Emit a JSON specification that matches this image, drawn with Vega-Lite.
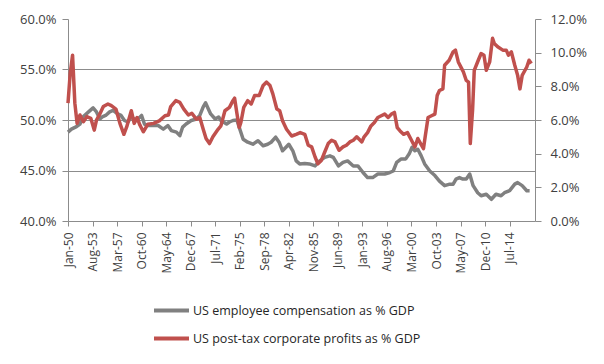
{
  "$schema": "https://vega.github.io/schema/vega-lite/v6.json",
  "width": 467,
  "height": 202,
  "autosize": {"type": "none"},
  "padding": {"left": 68, "top": 19, "right": 69, "bottom": 143},
  "background": "white",
  "config": {
    "font": "Open Sans",
    "view": {"stroke": null},
    "axis": {
      "labelFont": "Open Sans",
      "labelColor": "#404040",
      "domainColor": "#8c8c8c",
      "tickColor": "#8c8c8c",
      "gridColor": "#8c8c8c",
      "domainWidth": 1,
      "tickWidth": 1,
      "gridWidth": 1,
      "title": null
    }
  },
  "data": {
    "values": [
      {"date": "1950-01-01", "series": "US employee compensation as % GDP", "value": 0.488},
      {"date": "1950-07-01", "series": "US employee compensation as % GDP", "value": 0.491},
      {"date": "1951-04-01", "series": "US employee compensation as % GDP", "value": 0.4935},
      {"date": "1951-10-01", "series": "US employee compensation as % GDP", "value": 0.496},
      {"date": "1952-03-01", "series": "US employee compensation as % GDP", "value": 0.503},
      {"date": "1953-01-01", "series": "US employee compensation as % GDP", "value": 0.508},
      {"date": "1953-09-01", "series": "US employee compensation as % GDP", "value": 0.512},
      {"date": "1954-03-01", "series": "US employee compensation as % GDP", "value": 0.508},
      {"date": "1954-09-01", "series": "US employee compensation as % GDP", "value": 0.501},
      {"date": "1955-01-01", "series": "US employee compensation as % GDP", "value": 0.503},
      {"date": "1955-07-01", "series": "US employee compensation as % GDP", "value": 0.5045},
      {"date": "1956-02-01", "series": "US employee compensation as % GDP", "value": 0.508},
      {"date": "1956-08-01", "series": "US employee compensation as % GDP", "value": 0.5095},
      {"date": "1957-04-01", "series": "US employee compensation as % GDP", "value": 0.506},
      {"date": "1957-10-01", "series": "US employee compensation as % GDP", "value": 0.5045},
      {"date": "1958-04-01", "series": "US employee compensation as % GDP", "value": 0.4995},
      {"date": "1958-10-01", "series": "US employee compensation as % GDP", "value": 0.498},
      {"date": "1959-04-01", "series": "US employee compensation as % GDP", "value": 0.503},
      {"date": "1960-01-01", "series": "US employee compensation as % GDP", "value": 0.4995},
      {"date": "1960-10-01", "series": "US employee compensation as % GDP", "value": 0.5045},
      {"date": "1961-03-01", "series": "US employee compensation as % GDP", "value": 0.496},
      {"date": "1961-09-01", "series": "US employee compensation as % GDP", "value": 0.4945},
      {"date": "1962-07-01", "series": "US employee compensation as % GDP", "value": 0.4945},
      {"date": "1963-03-01", "series": "US employee compensation as % GDP", "value": 0.4945},
      {"date": "1963-12-01", "series": "US employee compensation as % GDP", "value": 0.491},
      {"date": "1964-08-01", "series": "US employee compensation as % GDP", "value": 0.4945},
      {"date": "1965-02-01", "series": "US employee compensation as % GDP", "value": 0.4895},
      {"date": "1965-11-01", "series": "US employee compensation as % GDP", "value": 0.488},
      {"date": "1966-05-01", "series": "US employee compensation as % GDP", "value": 0.4845},
      {"date": "1966-10-01", "series": "US employee compensation as % GDP", "value": 0.493},
      {"date": "1967-04-01", "series": "US employee compensation as % GDP", "value": 0.496},
      {"date": "1968-01-01", "series": "US employee compensation as % GDP", "value": 0.4995},
      {"date": "1968-10-01", "series": "US employee compensation as % GDP", "value": 0.501},
      {"date": "1969-04-01", "series": "US employee compensation as % GDP", "value": 0.5045},
      {"date": "1969-10-01", "series": "US employee compensation as % GDP", "value": 0.513},
      {"date": "1970-02-01", "series": "US employee compensation as % GDP", "value": 0.517},
      {"date": "1970-07-01", "series": "US employee compensation as % GDP", "value": 0.511},
      {"date": "1970-11-01", "series": "US employee compensation as % GDP", "value": 0.506},
      {"date": "1971-07-01", "series": "US employee compensation as % GDP", "value": 0.501},
      {"date": "1972-01-01", "series": "US employee compensation as % GDP", "value": 0.503},
      {"date": "1972-05-01", "series": "US employee compensation as % GDP", "value": 0.4995},
      {"date": "1973-03-01", "series": "US employee compensation as % GDP", "value": 0.496},
      {"date": "1973-08-01", "series": "US employee compensation as % GDP", "value": 0.498},
      {"date": "1974-02-01", "series": "US employee compensation as % GDP", "value": 0.4995},
      {"date": "1974-09-01", "series": "US employee compensation as % GDP", "value": 0.500},
      {"date": "1975-02-01", "series": "US employee compensation as % GDP", "value": 0.491},
      {"date": "1975-08-01", "series": "US employee compensation as % GDP", "value": 0.481},
      {"date": "1976-04-01", "series": "US employee compensation as % GDP", "value": 0.478},
      {"date": "1977-01-01", "series": "US employee compensation as % GDP", "value": 0.476},
      {"date": "1977-10-01", "series": "US employee compensation as % GDP", "value": 0.4795},
      {"date": "1978-07-01", "series": "US employee compensation as % GDP", "value": 0.4745},
      {"date": "1979-03-01", "series": "US employee compensation as % GDP", "value": 0.476},
      {"date": "1979-09-01", "series": "US employee compensation as % GDP", "value": 0.478},
      {"date": "1980-05-01", "series": "US employee compensation as % GDP", "value": 0.483},
      {"date": "1980-11-01", "series": "US employee compensation as % GDP", "value": 0.478},
      {"date": "1981-05-01", "series": "US employee compensation as % GDP", "value": 0.4695},
      {"date": "1981-11-01", "series": "US employee compensation as % GDP", "value": 0.473},
      {"date": "1982-04-01", "series": "US employee compensation as % GDP", "value": 0.476},
      {"date": "1982-11-01", "series": "US employee compensation as % GDP", "value": 0.4695},
      {"date": "1983-05-01", "series": "US employee compensation as % GDP", "value": 0.4595},
      {"date": "1983-11-01", "series": "US employee compensation as % GDP", "value": 0.4565},
      {"date": "1984-08-01", "series": "US employee compensation as % GDP", "value": 0.457},
      {"date": "1985-04-01", "series": "US employee compensation as % GDP", "value": 0.4565},
      {"date": "1986-02-01", "series": "US employee compensation as % GDP", "value": 0.4545},
      {"date": "1986-10-01", "series": "US employee compensation as % GDP", "value": 0.4595},
      {"date": "1987-07-01", "series": "US employee compensation as % GDP", "value": 0.463},
      {"date": "1988-04-01", "series": "US employee compensation as % GDP", "value": 0.4645},
      {"date": "1988-10-01", "series": "US employee compensation as % GDP", "value": 0.463},
      {"date": "1989-07-01", "series": "US employee compensation as % GDP", "value": 0.4545},
      {"date": "1990-03-01", "series": "US employee compensation as % GDP", "value": 0.458},
      {"date": "1990-11-01", "series": "US employee compensation as % GDP", "value": 0.4595},
      {"date": "1991-09-01", "series": "US employee compensation as % GDP", "value": 0.4545},
      {"date": "1992-05-01", "series": "US employee compensation as % GDP", "value": 0.4545},
      {"date": "1993-02-01", "series": "US employee compensation as % GDP", "value": 0.448},
      {"date": "1993-10-01", "series": "US employee compensation as % GDP", "value": 0.443},
      {"date": "1994-07-01", "series": "US employee compensation as % GDP", "value": 0.443},
      {"date": "1995-04-01", "series": "US employee compensation as % GDP", "value": 0.4465},
      {"date": "1996-04-01", "series": "US employee compensation as % GDP", "value": 0.4465},
      {"date": "1997-01-01", "series": "US employee compensation as % GDP", "value": 0.448},
      {"date": "1997-07-01", "series": "US employee compensation as % GDP", "value": 0.4495},
      {"date": "1998-01-01", "series": "US employee compensation as % GDP", "value": 0.458},
      {"date": "1998-09-01", "series": "US employee compensation as % GDP", "value": 0.4615},
      {"date": "1999-05-01", "series": "US employee compensation as % GDP", "value": 0.4615},
      {"date": "1999-11-01", "series": "US employee compensation as % GDP", "value": 0.4665},
      {"date": "2000-04-01", "series": "US employee compensation as % GDP", "value": 0.473},
      {"date": "2000-09-01", "series": "US employee compensation as % GDP", "value": 0.4695},
      {"date": "2001-02-01", "series": "US employee compensation as % GDP", "value": 0.471},
      {"date": "2001-08-01", "series": "US employee compensation as % GDP", "value": 0.4645},
      {"date": "2002-02-01", "series": "US employee compensation as % GDP", "value": 0.4565},
      {"date": "2002-11-01", "series": "US employee compensation as % GDP", "value": 0.4495},
      {"date": "2003-08-01", "series": "US employee compensation as % GDP", "value": 0.445},
      {"date": "2004-04-01", "series": "US employee compensation as % GDP", "value": 0.4395},
      {"date": "2005-01-01", "series": "US employee compensation as % GDP", "value": 0.435},
      {"date": "2005-10-01", "series": "US employee compensation as % GDP", "value": 0.4365},
      {"date": "2006-04-01", "series": "US employee compensation as % GDP", "value": 0.4365},
      {"date": "2006-09-01", "series": "US employee compensation as % GDP", "value": 0.4415},
      {"date": "2007-03-01", "series": "US employee compensation as % GDP", "value": 0.443},
      {"date": "2007-09-01", "series": "US employee compensation as % GDP", "value": 0.4415},
      {"date": "2008-03-01", "series": "US employee compensation as % GDP", "value": 0.4415},
      {"date": "2008-09-01", "series": "US employee compensation as % GDP", "value": 0.4465},
      {"date": "2009-03-01", "series": "US employee compensation as % GDP", "value": 0.435},
      {"date": "2009-11-01", "series": "US employee compensation as % GDP", "value": 0.428},
      {"date": "2010-05-01", "series": "US employee compensation as % GDP", "value": 0.425},
      {"date": "2011-02-01", "series": "US employee compensation as % GDP", "value": 0.4265},
      {"date": "2011-11-01", "series": "US employee compensation as % GDP", "value": 0.4215},
      {"date": "2012-07-01", "series": "US employee compensation as % GDP", "value": 0.4265},
      {"date": "2013-04-01", "series": "US employee compensation as % GDP", "value": 0.425},
      {"date": "2013-10-01", "series": "US employee compensation as % GDP", "value": 0.428},
      {"date": "2014-07-01", "series": "US employee compensation as % GDP", "value": 0.430},
      {"date": "2015-04-01", "series": "US employee compensation as % GDP", "value": 0.4365},
      {"date": "2015-09-01", "series": "US employee compensation as % GDP", "value": 0.438},
      {"date": "2016-05-01", "series": "US employee compensation as % GDP", "value": 0.435},
      {"date": "2017-01-01", "series": "US employee compensation as % GDP", "value": 0.430},
      {"date": "2017-06-01", "series": "US employee compensation as % GDP", "value": 0.430},

      {"date": "1950-01-01", "series": "US post-tax corporate profits as % GDP", "value": 0.070},
      {"date": "1950-05-01", "series": "US post-tax corporate profits as % GDP", "value": 0.088},
      {"date": "1950-09-01", "series": "US post-tax corporate profits as % GDP", "value": 0.0985},
      {"date": "1951-01-01", "series": "US post-tax corporate profits as % GDP", "value": 0.070},
      {"date": "1951-05-01", "series": "US post-tax corporate profits as % GDP", "value": 0.058},
      {"date": "1951-10-01", "series": "US post-tax corporate profits as % GDP", "value": 0.063},
      {"date": "1952-04-01", "series": "US post-tax corporate profits as % GDP", "value": 0.059},
      {"date": "1952-10-01", "series": "US post-tax corporate profits as % GDP", "value": 0.062},
      {"date": "1953-05-01", "series": "US post-tax corporate profits as % GDP", "value": 0.061},
      {"date": "1953-11-01", "series": "US post-tax corporate profits as % GDP", "value": 0.054},
      {"date": "1954-03-01", "series": "US post-tax corporate profits as % GDP", "value": 0.060},
      {"date": "1954-08-01", "series": "US post-tax corporate profits as % GDP", "value": 0.063},
      {"date": "1955-03-01", "series": "US post-tax corporate profits as % GDP", "value": 0.068},
      {"date": "1955-11-01", "series": "US post-tax corporate profits as % GDP", "value": 0.0695},
      {"date": "1956-05-01", "series": "US post-tax corporate profits as % GDP", "value": 0.0685},
      {"date": "1957-01-01", "series": "US post-tax corporate profits as % GDP", "value": 0.0665},
      {"date": "1957-08-01", "series": "US post-tax corporate profits as % GDP", "value": 0.058},
      {"date": "1958-03-01", "series": "US post-tax corporate profits as % GDP", "value": 0.0515},
      {"date": "1958-08-01", "series": "US post-tax corporate profits as % GDP", "value": 0.056},
      {"date": "1959-04-01", "series": "US post-tax corporate profits as % GDP", "value": 0.0655},
      {"date": "1959-09-01", "series": "US post-tax corporate profits as % GDP", "value": 0.058},
      {"date": "1960-02-01", "series": "US post-tax corporate profits as % GDP", "value": 0.0615},
      {"date": "1960-07-01", "series": "US post-tax corporate profits as % GDP", "value": 0.057},
      {"date": "1961-01-01", "series": "US post-tax corporate profits as % GDP", "value": 0.053},
      {"date": "1961-09-01", "series": "US post-tax corporate profits as % GDP", "value": 0.0575},
      {"date": "1962-07-01", "series": "US post-tax corporate profits as % GDP", "value": 0.058},
      {"date": "1963-05-01", "series": "US post-tax corporate profits as % GDP", "value": 0.0595},
      {"date": "1964-03-01", "series": "US post-tax corporate profits as % GDP", "value": 0.0625},
      {"date": "1964-09-01", "series": "US post-tax corporate profits as % GDP", "value": 0.063},
      {"date": "1965-01-01", "series": "US post-tax corporate profits as % GDP", "value": 0.068},
      {"date": "1965-10-01", "series": "US post-tax corporate profits as % GDP", "value": 0.0715},
      {"date": "1966-05-01", "series": "US post-tax corporate profits as % GDP", "value": 0.0705},
      {"date": "1966-12-01", "series": "US post-tax corporate profits as % GDP", "value": 0.0665},
      {"date": "1967-08-01", "series": "US post-tax corporate profits as % GDP", "value": 0.063},
      {"date": "1968-02-01", "series": "US post-tax corporate profits as % GDP", "value": 0.064},
      {"date": "1968-10-01", "series": "US post-tax corporate profits as % GDP", "value": 0.0605},
      {"date": "1969-04-01", "series": "US post-tax corporate profits as % GDP", "value": 0.0615},
      {"date": "1969-10-01", "series": "US post-tax corporate profits as % GDP", "value": 0.0545},
      {"date": "1970-03-01", "series": "US post-tax corporate profits as % GDP", "value": 0.049},
      {"date": "1970-09-01", "series": "US post-tax corporate profits as % GDP", "value": 0.046},
      {"date": "1971-03-01", "series": "US post-tax corporate profits as % GDP", "value": 0.050},
      {"date": "1971-12-01", "series": "US post-tax corporate profits as % GDP", "value": 0.0545},
      {"date": "1972-05-01", "series": "US post-tax corporate profits as % GDP", "value": 0.0565},
      {"date": "1972-12-01", "series": "US post-tax corporate profits as % GDP", "value": 0.0655},
      {"date": "1973-08-01", "series": "US post-tax corporate profits as % GDP", "value": 0.0675},
      {"date": "1974-02-01", "series": "US post-tax corporate profits as % GDP", "value": 0.0715},
      {"date": "1974-05-01", "series": "US post-tax corporate profits as % GDP", "value": 0.073},
      {"date": "1974-09-01", "series": "US post-tax corporate profits as % GDP", "value": 0.064},
      {"date": "1975-01-01", "series": "US post-tax corporate profits as % GDP", "value": 0.0555},
      {"date": "1975-04-01", "series": "US post-tax corporate profits as % GDP", "value": 0.0585},
      {"date": "1975-09-01", "series": "US post-tax corporate profits as % GDP", "value": 0.0675},
      {"date": "1976-04-01", "series": "US post-tax corporate profits as % GDP", "value": 0.0715},
      {"date": "1976-10-01", "series": "US post-tax corporate profits as % GDP", "value": 0.0695},
      {"date": "1977-04-01", "series": "US post-tax corporate profits as % GDP", "value": 0.0745},
      {"date": "1977-12-01", "series": "US post-tax corporate profits as % GDP", "value": 0.0745},
      {"date": "1978-07-01", "series": "US post-tax corporate profits as % GDP", "value": 0.0805},
      {"date": "1979-01-01", "series": "US post-tax corporate profits as % GDP", "value": 0.0825},
      {"date": "1979-07-01", "series": "US post-tax corporate profits as % GDP", "value": 0.0805},
      {"date": "1979-12-01", "series": "US post-tax corporate profits as % GDP", "value": 0.0755},
      {"date": "1980-07-01", "series": "US post-tax corporate profits as % GDP", "value": 0.0665},
      {"date": "1980-12-01", "series": "US post-tax corporate profits as % GDP", "value": 0.0655},
      {"date": "1981-05-01", "series": "US post-tax corporate profits as % GDP", "value": 0.0595},
      {"date": "1981-12-01", "series": "US post-tax corporate profits as % GDP", "value": 0.0545},
      {"date": "1982-09-01", "series": "US post-tax corporate profits as % GDP", "value": 0.0505},
      {"date": "1983-05-01", "series": "US post-tax corporate profits as % GDP", "value": 0.0515},
      {"date": "1983-12-01", "series": "US post-tax corporate profits as % GDP", "value": 0.0525},
      {"date": "1984-08-01", "series": "US post-tax corporate profits as % GDP", "value": 0.0515},
      {"date": "1985-02-01", "series": "US post-tax corporate profits as % GDP", "value": 0.045},
      {"date": "1985-08-01", "series": "US post-tax corporate profits as % GDP", "value": 0.044},
      {"date": "1986-02-01", "series": "US post-tax corporate profits as % GDP", "value": 0.038},
      {"date": "1986-07-01", "series": "US post-tax corporate profits as % GDP", "value": 0.034},
      {"date": "1987-01-01", "series": "US post-tax corporate profits as % GDP", "value": 0.036},
      {"date": "1987-07-01", "series": "US post-tax corporate profits as % GDP", "value": 0.041},
      {"date": "1988-01-01", "series": "US post-tax corporate profits as % GDP", "value": 0.046},
      {"date": "1988-07-01", "series": "US post-tax corporate profits as % GDP", "value": 0.048},
      {"date": "1989-01-01", "series": "US post-tax corporate profits as % GDP", "value": 0.047},
      {"date": "1989-08-01", "series": "US post-tax corporate profits as % GDP", "value": 0.042},
      {"date": "1990-03-01", "series": "US post-tax corporate profits as % GDP", "value": 0.044},
      {"date": "1990-09-01", "series": "US post-tax corporate profits as % GDP", "value": 0.045},
      {"date": "1991-03-01", "series": "US post-tax corporate profits as % GDP", "value": 0.047},
      {"date": "1991-09-01", "series": "US post-tax corporate profits as % GDP", "value": 0.048},
      {"date": "1992-03-01", "series": "US post-tax corporate profits as % GDP", "value": 0.050},
      {"date": "1992-12-01", "series": "US post-tax corporate profits as % GDP", "value": 0.047},
      {"date": "1993-04-01", "series": "US post-tax corporate profits as % GDP", "value": 0.050},
      {"date": "1993-10-01", "series": "US post-tax corporate profits as % GDP", "value": 0.0525},
      {"date": "1994-04-01", "series": "US post-tax corporate profits as % GDP", "value": 0.0565},
      {"date": "1994-10-01", "series": "US post-tax corporate profits as % GDP", "value": 0.0585},
      {"date": "1995-04-01", "series": "US post-tax corporate profits as % GDP", "value": 0.0615},
      {"date": "1995-10-01", "series": "US post-tax corporate profits as % GDP", "value": 0.0625},
      {"date": "1996-04-01", "series": "US post-tax corporate profits as % GDP", "value": 0.0635},
      {"date": "1996-10-01", "series": "US post-tax corporate profits as % GDP", "value": 0.0615},
      {"date": "1997-04-01", "series": "US post-tax corporate profits as % GDP", "value": 0.0635},
      {"date": "1997-09-01", "series": "US post-tax corporate profits as % GDP", "value": 0.0645},
      {"date": "1998-02-01", "series": "US post-tax corporate profits as % GDP", "value": 0.0555},
      {"date": "1998-07-01", "series": "US post-tax corporate profits as % GDP", "value": 0.0535},
      {"date": "1999-01-01", "series": "US post-tax corporate profits as % GDP", "value": 0.0515},
      {"date": "1999-08-01", "series": "US post-tax corporate profits as % GDP", "value": 0.0525},
      {"date": "2000-03-01", "series": "US post-tax corporate profits as % GDP", "value": 0.048},
      {"date": "2000-09-01", "series": "US post-tax corporate profits as % GDP", "value": 0.044},
      {"date": "2001-02-01", "series": "US post-tax corporate profits as % GDP", "value": 0.049},
      {"date": "2001-07-01", "series": "US post-tax corporate profits as % GDP", "value": 0.046},
      {"date": "2001-12-01", "series": "US post-tax corporate profits as % GDP", "value": 0.043},
      {"date": "2002-03-01", "series": "US post-tax corporate profits as % GDP", "value": 0.050},
      {"date": "2002-08-01", "series": "US post-tax corporate profits as % GDP", "value": 0.0615},
      {"date": "2003-02-01", "series": "US post-tax corporate profits as % GDP", "value": 0.0625},
      {"date": "2003-08-01", "series": "US post-tax corporate profits as % GDP", "value": 0.0635},
      {"date": "2003-12-01", "series": "US post-tax corporate profits as % GDP", "value": 0.0745},
      {"date": "2004-04-01", "series": "US post-tax corporate profits as % GDP", "value": 0.0775},
      {"date": "2004-10-01", "series": "US post-tax corporate profits as % GDP", "value": 0.0785},
      {"date": "2005-01-01", "series": "US post-tax corporate profits as % GDP", "value": 0.0925},
      {"date": "2005-09-01", "series": "US post-tax corporate profits as % GDP", "value": 0.0955},
      {"date": "2006-04-01", "series": "US post-tax corporate profits as % GDP", "value": 0.1005},
      {"date": "2006-08-01", "series": "US post-tax corporate profits as % GDP", "value": 0.1015},
      {"date": "2007-01-01", "series": "US post-tax corporate profits as % GDP", "value": 0.0945},
      {"date": "2007-07-01", "series": "US post-tax corporate profits as % GDP", "value": 0.0905},
      {"date": "2007-10-01", "series": "US post-tax corporate profits as % GDP", "value": 0.0885},
      {"date": "2008-03-01", "series": "US post-tax corporate profits as % GDP", "value": 0.0835},
      {"date": "2008-07-01", "series": "US post-tax corporate profits as % GDP", "value": 0.0825},
      {"date": "2008-10-01", "series": "US post-tax corporate profits as % GDP", "value": 0.046},
      {"date": "2009-02-01", "series": "US post-tax corporate profits as % GDP", "value": 0.066},
      {"date": "2009-05-01", "series": "US post-tax corporate profits as % GDP", "value": 0.0895},
      {"date": "2009-12-01", "series": "US post-tax corporate profits as % GDP", "value": 0.0955},
      {"date": "2010-05-01", "series": "US post-tax corporate profits as % GDP", "value": 0.0995},
      {"date": "2010-10-01", "series": "US post-tax corporate profits as % GDP", "value": 0.0985},
      {"date": "2011-02-01", "series": "US post-tax corporate profits as % GDP", "value": 0.0895},
      {"date": "2011-08-01", "series": "US post-tax corporate profits as % GDP", "value": 0.0945},
      {"date": "2012-01-01", "series": "US post-tax corporate profits as % GDP", "value": 0.1085},
      {"date": "2012-04-01", "series": "US post-tax corporate profits as % GDP", "value": 0.1055},
      {"date": "2012-10-01", "series": "US post-tax corporate profits as % GDP", "value": 0.1035},
      {"date": "2013-07-01", "series": "US post-tax corporate profits as % GDP", "value": 0.1015},
      {"date": "2014-01-01", "series": "US post-tax corporate profits as % GDP", "value": 0.1015},
      {"date": "2014-05-01", "series": "US post-tax corporate profits as % GDP", "value": 0.0985},
      {"date": "2014-10-01", "series": "US post-tax corporate profits as % GDP", "value": 0.1005},
      {"date": "2015-04-01", "series": "US post-tax corporate profits as % GDP", "value": 0.0925},
      {"date": "2015-09-01", "series": "US post-tax corporate profits as % GDP", "value": 0.0865},
      {"date": "2016-01-01", "series": "US post-tax corporate profits as % GDP", "value": 0.0785},
      {"date": "2016-05-01", "series": "US post-tax corporate profits as % GDP", "value": 0.0865},
      {"date": "2017-01-01", "series": "US post-tax corporate profits as % GDP", "value": 0.0915},
      {"date": "2017-05-01", "series": "US post-tax corporate profits as % GDP", "value": 0.0955},
      {"date": "2017-09-01", "series": "US post-tax corporate profits as % GDP", "value": 0.0935}
    ]
  },
  "encoding": {
    "x": {
      "field": "date",
      "type": "temporal",
      "scale": {
        "type": "utc",
        "domain": [
          {"year": 1950, "month": 1, "date": 1, "utc": true},
          {"year": 2018, "month": 3, "date": 15, "utc": true}
        ]
      },
      "axis": {
        "values": [
          {"year": 1950, "month": 1, "date": 1, "utc": true},
          {"year": 1953, "month": 8, "date": 1, "utc": true},
          {"year": 1957, "month": 3, "date": 1, "utc": true},
          {"year": 1960, "month": 10, "date": 1, "utc": true},
          {"year": 1964, "month": 5, "date": 1, "utc": true},
          {"year": 1967, "month": 12, "date": 1, "utc": true},
          {"year": 1971, "month": 7, "date": 1, "utc": true},
          {"year": 1975, "month": 2, "date": 1, "utc": true},
          {"year": 1978, "month": 9, "date": 1, "utc": true},
          {"year": 1982, "month": 4, "date": 1, "utc": true},
          {"year": 1985, "month": 11, "date": 1, "utc": true},
          {"year": 1989, "month": 6, "date": 1, "utc": true},
          {"year": 1993, "month": 1, "date": 1, "utc": true},
          {"year": 1996, "month": 8, "date": 1, "utc": true},
          {"year": 2000, "month": 3, "date": 1, "utc": true},
          {"year": 2003, "month": 10, "date": 1, "utc": true},
          {"year": 2007, "month": 5, "date": 1, "utc": true},
          {"year": 2010, "month": 12, "date": 1, "utc": true},
          {"year": 2014, "month": 7, "date": 1, "utc": true}
        ],
        "labelExpr": "utcFormat(datum.value, '%b-%y')",
        "labelAngle": -90,
        "labelFontSize": 12,
        "labelPadding": 6,
        "tickSize": 5,
        "grid": false,
        "labelOverlap": false,
        "labelFlush": false
      }
    }
  },
  "layer": [
    {
      "transform": [{"filter": "datum.series === 'US employee compensation as % GDP'"}],
      "mark": {"type": "line", "strokeWidth": 3.5, "strokeJoin": "round"},
      "encoding": {
        "y": {
          "field": "value",
          "type": "quantitative",
          "scale": {"domain": [0.4, 0.6], "nice": false, "zero": false},
          "axis": {
            "orient": "left",
            "values": [0.4, 0.45, 0.5, 0.55, 0.6],
            "format": ".1%",
            "labelFontSize": 13,
            "labelPadding": 6,
            "tickSize": 6,
            "grid": true,
            "gridOpacity": {"condition": {"test": "datum.value > 0.59 || datum.value < 0.41", "value": 0}, "value": 1}
          }
        },
        "color": {
          "field": "series",
          "type": "nominal",
          "scale": {
            "domain": ["US employee compensation as % GDP", "US post-tax corporate profits as % GDP"],
            "range": ["#808080", "#c0504d"]
          },
          "legend": {
            "orient": "none",
            "legendX": 84,
            "legendY": 272,
            "direction": "vertical",
            "title": null,
            "symbolType": "stroke",
            "symbolSize": 1225,
            "symbolStrokeWidth": 4,
            "labelFont": "Open Sans",
            "labelFontSize": 12.5,
            "labelColor": "#262626",
            "labelOffset": 2,
            "rowPadding": -6,
            "padding": 0,
            "labelLimit": 400
          }
        }
      }
    },
    {
      "transform": [{"filter": "datum.series === 'US post-tax corporate profits as % GDP'"}],
      "mark": {"type": "line", "strokeWidth": 3.5, "strokeJoin": "round"},
      "encoding": {
        "y": {
          "field": "value",
          "type": "quantitative",
          "scale": {"domain": [0, 0.12], "nice": false},
          "axis": {
            "orient": "right",
            "values": [0, 0.02, 0.04, 0.06, 0.08, 0.1, 0.12],
            "format": ".1%",
            "labelFontSize": 13,
            "labelPadding": 9,
            "tickSize": 6,
            "grid": false
          }
        },
        "color": {"field": "series", "type": "nominal"}
      }
    }
  ],
  "resolve": {"scale": {"y": "independent"}}
}
